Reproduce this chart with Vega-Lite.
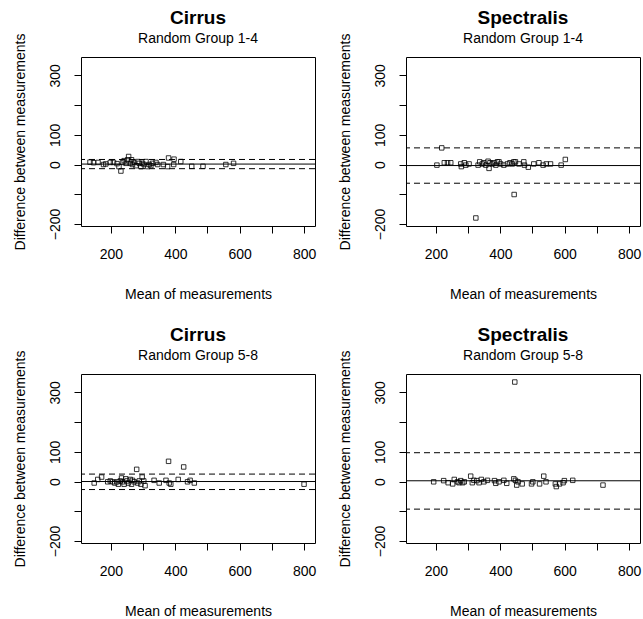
{
"$schema": "https://vega.github.io/schema/vega-lite/v6.json",
"background": "white",
"padding": {"left": 12, "top": 8, "right": 2, "bottom": 2},
"bounds": "flush",
"spacing": {"row": 148, "column": 91},
"columns": 2,
"datasets": {
"pts": [
{"p":"A","m":135,"d":8},{"p":"A","m":146,"d":6},{"p":"A","m":160,"d":7},{"p":"A","m":177,"d":0},{"p":"A","m":184,"d":2},{"p":"A","m":198,"d":7},{"p":"A","m":208,"d":7},{"p":"A","m":219,"d":3},{"p":"A","m":225,"d":-7},{"p":"A","m":231,"d":-22},{"p":"A","m":236,"d":7},{"p":"A","m":241,"d":13},{"p":"A","m":247,"d":4},{"p":"A","m":252,"d":16},{"p":"A","m":255,"d":27},{"p":"A","m":260,"d":4},{"p":"A","m":264,"d":16},{"p":"A","m":267,"d":0},{"p":"A","m":272,"d":7},{"p":"A","m":278,"d":-4},{"p":"A","m":283,"d":10},{"p":"A","m":288,"d":4},{"p":"A","m":293,"d":-7},{"p":"A","m":298,"d":4},{"p":"A","m":303,"d":0},{"p":"A","m":309,"d":10},{"p":"A","m":314,"d":-7},{"p":"A","m":319,"d":0},{"p":"A","m":324,"d":-4},{"p":"A","m":329,"d":4},{"p":"A","m":340,"d":7},{"p":"A","m":345,"d":0},{"p":"A","m":363,"d":0},{"p":"A","m":376,"d":-7},{"p":"A","m":379,"d":22},{"p":"A","m":395,"d":0},{"p":"A","m":396,"d":18},{"p":"A","m":417,"d":10},{"p":"A","m":451,"d":-6},{"p":"A","m":486,"d":-6},{"p":"A","m":557,"d":0},{"p":"A","m":581,"d":4},
{"p":"B","m":203,"d":-2},{"p":"B","m":218,"d":56},{"p":"B","m":226,"d":6},{"p":"B","m":236,"d":6},{"p":"B","m":246,"d":6},{"p":"B","m":277,"d":2},{"p":"B","m":279,"d":-7},{"p":"B","m":288,"d":6},{"p":"B","m":293,"d":-2},{"p":"B","m":303,"d":2},{"p":"B","m":324,"d":-180},{"p":"B","m":331,"d":-2},{"p":"B","m":336,"d":9},{"p":"B","m":344,"d":2},{"p":"B","m":349,"d":6},{"p":"B","m":355,"d":-2},{"p":"B","m":362,"d":11},{"p":"B","m":365,"d":-13},{"p":"B","m":368,"d":6},{"p":"B","m":375,"d":2},{"p":"B","m":380,"d":6},{"p":"B","m":386,"d":-2},{"p":"B","m":391,"d":9},{"p":"B","m":396,"d":9},{"p":"B","m":401,"d":2},{"p":"B","m":411,"d":-2},{"p":"B","m":422,"d":2},{"p":"B","m":430,"d":6},{"p":"B","m":437,"d":2},{"p":"B","m":442,"d":9},{"p":"B","m":443,"d":-101},{"p":"B","m":447,"d":9},{"p":"B","m":458,"d":2},{"p":"B","m":473,"d":9},{"p":"B","m":475,"d":-2},{"p":"B","m":487,"d":-9},{"p":"B","m":504,"d":2},{"p":"B","m":520,"d":6},{"p":"B","m":533,"d":-2},{"p":"B","m":543,"d":2},{"p":"B","m":556,"d":2},{"p":"B","m":589,"d":-2},{"p":"B","m":602,"d":17},
{"p":"C","m":148,"d":-5},{"p":"C","m":159,"d":7},{"p":"C","m":171,"d":15},{"p":"C","m":190,"d":-1},{"p":"C","m":198,"d":2},{"p":"C","m":205,"d":-1},{"p":"C","m":212,"d":-5},{"p":"C","m":219,"d":-1},{"p":"C","m":223,"d":-9},{"p":"C","m":229,"d":2},{"p":"C","m":233,"d":12},{"p":"C","m":236,"d":-1},{"p":"C","m":241,"d":-9},{"p":"C","m":246,"d":9},{"p":"C","m":250,"d":2},{"p":"C","m":254,"d":-5},{"p":"C","m":260,"d":7},{"p":"C","m":264,"d":-9},{"p":"C","m":267,"d":4},{"p":"C","m":272,"d":-1},{"p":"C","m":280,"d":41},{"p":"C","m":283,"d":-5},{"p":"C","m":288,"d":2},{"p":"C","m":293,"d":-9},{"p":"C","m":297,"d":15},{"p":"C","m":302,"d":2},{"p":"C","m":306,"d":-14},{"p":"C","m":334,"d":4},{"p":"C","m":350,"d":-5},{"p":"C","m":371,"d":4},{"p":"C","m":379,"d":68},{"p":"C","m":381,"d":-5},{"p":"C","m":386,"d":-9},{"p":"C","m":409,"d":7},{"p":"C","m":426,"d":49},{"p":"C","m":438,"d":-1},{"p":"C","m":446,"d":4},{"p":"C","m":459,"d":-5},{"p":"C","m":800,"d":-9},
{"p":"D","m":193,"d":-1},{"p":"D","m":224,"d":3},{"p":"D","m":238,"d":-4},{"p":"D","m":252,"d":-8},{"p":"D","m":257,"d":7},{"p":"D","m":267,"d":-1},{"p":"D","m":272,"d":-4},{"p":"D","m":277,"d":3},{"p":"D","m":283,"d":-4},{"p":"D","m":288,"d":-1},{"p":"D","m":308,"d":18},{"p":"D","m":313,"d":-4},{"p":"D","m":318,"d":4},{"p":"D","m":327,"d":3},{"p":"D","m":334,"d":-4},{"p":"D","m":341,"d":7},{"p":"D","m":349,"d":-1},{"p":"D","m":360,"d":4},{"p":"D","m":382,"d":3},{"p":"D","m":386,"d":-6},{"p":"D","m":396,"d":-1},{"p":"D","m":411,"d":4},{"p":"D","m":420,"d":-6},{"p":"D","m":442,"d":9},{"p":"D","m":445,"d":335},{"p":"D","m":447,"d":4},{"p":"D","m":451,"d":-12},{"p":"D","m":455,"d":-1},{"p":"D","m":468,"d":-8},{"p":"D","m":497,"d":-8},{"p":"D","m":501,"d":-1},{"p":"D","m":522,"d":-8},{"p":"D","m":535,"d":18},{"p":"D","m":542,"d":-1},{"p":"D","m":571,"d":-8},{"p":"D","m":574,"d":-17},{"p":"D","m":584,"d":-8},{"p":"D","m":595,"d":-4},{"p":"D","m":599,"d":3},{"p":"D","m":625,"d":4},{"p":"D","m":719,"d":-12}
],
"lines": [
{"p":"A","v":1.5,"t":"mean"},{"p":"A","v":17,"t":"limit"},{"p":"A","v":-14,"t":"limit"},
{"p":"B","v":-3.5,"t":"mean"},{"p":"B","v":56,"t":"limit"},{"p":"B","v":-63,"t":"limit"},
{"p":"C","v":0,"t":"mean"},{"p":"C","v":25,"t":"limit"},{"p":"C","v":-27,"t":"limit"},
{"p":"D","v":2.5,"t":"mean"},{"p":"D","v":97,"t":"limit"},{"p":"D","v":-93,"t":"limit"}
]
},
"concat": [
{"title": {"text": "Cirrus", "subtitle": "Random Group 1-4"}, "width": 234, "height": 169,
 "layer": [
  {"data": {"name": "pts"}, "transform": [{"filter": "datum.p == 'A'"}],
   "mark": {"type": "point", "shape": "square", "filled": false, "color": "black", "size": 20, "strokeWidth": 0.8, "opacity": 1, "clip": true},
   "encoding": {
    "x": {"field": "m", "type": "quantitative", "scale": {"domain": [107, 834], "nice": false, "zero": false}, "axis": {"title": "Mean of measurements", "values": [200,300,400,500,600,700,800], "labelOverlap": false, "labelExpr": "datum.value % 200 == 0 ? datum.label : ''"}},
    "y": {"field": "d", "type": "quantitative", "scale": {"domain": [-207, 362], "nice": false, "zero": false}, "axis": {"title": "Difference between measurements", "values": [-200,-100,0,100,200,300], "labelOverlap": false, "labelExpr": "(datum.value == -100 || datum.value == 200) ? '' : datum.label"}}
   }},
  {"data": {"name": "lines"}, "transform": [{"filter": "datum.p == 'A'"}],
   "mark": {"type": "rule", "color": "black", "strokeWidth": 1},
   "encoding": {"y": {"field": "v", "type": "quantitative", "scale": {"domain": [-207, 362], "nice": false, "zero": false}, "axis": {"title": "Difference between measurements", "values": [-200,-100,0,100,200,300], "labelOverlap": false, "labelExpr": "(datum.value == -100 || datum.value == 200) ? '' : datum.label"}}, "strokeDash": {"field": "t", "type": "nominal", "scale": {"domain": ["mean", "limit"], "range": [[1, 0], [6, 4]]}, "legend": null}}}
 ]},
{"title": {"text": "Spectralis", "subtitle": "Random Group 1-4"}, "width": 234, "height": 169,
 "layer": [
  {"data": {"name": "pts"}, "transform": [{"filter": "datum.p == 'B'"}],
   "mark": {"type": "point", "shape": "square", "filled": false, "color": "black", "size": 20, "strokeWidth": 0.8, "opacity": 1, "clip": true},
   "encoding": {
    "x": {"field": "m", "type": "quantitative", "scale": {"domain": [107, 834], "nice": false, "zero": false}, "axis": {"title": "Mean of measurements", "values": [200,300,400,500,600,700,800], "labelOverlap": false, "labelExpr": "datum.value % 200 == 0 ? datum.label : ''"}},
    "y": {"field": "d", "type": "quantitative", "scale": {"domain": [-207, 362], "nice": false, "zero": false}, "axis": {"title": "Difference between measurements", "values": [-200,-100,0,100,200,300], "labelOverlap": false, "labelExpr": "(datum.value == -100 || datum.value == 200) ? '' : datum.label"}}
   }},
  {"data": {"name": "lines"}, "transform": [{"filter": "datum.p == 'B'"}],
   "mark": {"type": "rule", "color": "black", "strokeWidth": 1},
   "encoding": {"y": {"field": "v", "type": "quantitative", "scale": {"domain": [-207, 362], "nice": false, "zero": false}, "axis": {"title": "Difference between measurements", "values": [-200,-100,0,100,200,300], "labelOverlap": false, "labelExpr": "(datum.value == -100 || datum.value == 200) ? '' : datum.label"}}, "strokeDash": {"field": "t", "type": "nominal", "scale": {"domain": ["mean", "limit"], "range": [[1, 0], [6, 4]]}, "legend": null}}}
 ]},
{"title": {"text": "Cirrus", "subtitle": "Random Group 5-8"}, "width": 234, "height": 169,
 "layer": [
  {"data": {"name": "pts"}, "transform": [{"filter": "datum.p == 'C'"}],
   "mark": {"type": "point", "shape": "square", "filled": false, "color": "black", "size": 20, "strokeWidth": 0.8, "opacity": 1, "clip": true},
   "encoding": {
    "x": {"field": "m", "type": "quantitative", "scale": {"domain": [107, 834], "nice": false, "zero": false}, "axis": {"title": "Mean of measurements", "values": [200,300,400,500,600,700,800], "labelOverlap": false, "labelExpr": "datum.value % 200 == 0 ? datum.label : ''"}},
    "y": {"field": "d", "type": "quantitative", "scale": {"domain": [-207, 362], "nice": false, "zero": false}, "axis": {"title": "Difference between measurements", "values": [-200,-100,0,100,200,300], "labelOverlap": false, "labelExpr": "(datum.value == -100 || datum.value == 200) ? '' : datum.label"}}
   }},
  {"data": {"name": "lines"}, "transform": [{"filter": "datum.p == 'C'"}],
   "mark": {"type": "rule", "color": "black", "strokeWidth": 1},
   "encoding": {"y": {"field": "v", "type": "quantitative", "scale": {"domain": [-207, 362], "nice": false, "zero": false}, "axis": {"title": "Difference between measurements", "values": [-200,-100,0,100,200,300], "labelOverlap": false, "labelExpr": "(datum.value == -100 || datum.value == 200) ? '' : datum.label"}}, "strokeDash": {"field": "t", "type": "nominal", "scale": {"domain": ["mean", "limit"], "range": [[1, 0], [6, 4]]}, "legend": null}}}
 ]},
{"title": {"text": "Spectralis", "subtitle": "Random Group 5-8"}, "width": 234, "height": 169,
 "layer": [
  {"data": {"name": "pts"}, "transform": [{"filter": "datum.p == 'D'"}],
   "mark": {"type": "point", "shape": "square", "filled": false, "color": "black", "size": 20, "strokeWidth": 0.8, "opacity": 1, "clip": true},
   "encoding": {
    "x": {"field": "m", "type": "quantitative", "scale": {"domain": [107, 834], "nice": false, "zero": false}, "axis": {"title": "Mean of measurements", "values": [200,300,400,500,600,700,800], "labelOverlap": false, "labelExpr": "datum.value % 200 == 0 ? datum.label : ''"}},
    "y": {"field": "d", "type": "quantitative", "scale": {"domain": [-207, 362], "nice": false, "zero": false}, "axis": {"title": "Difference between measurements", "values": [-200,-100,0,100,200,300], "labelOverlap": false, "labelExpr": "(datum.value == -100 || datum.value == 200) ? '' : datum.label"}}
   }},
  {"data": {"name": "lines"}, "transform": [{"filter": "datum.p == 'D'"}],
   "mark": {"type": "rule", "color": "black", "strokeWidth": 1},
   "encoding": {"y": {"field": "v", "type": "quantitative", "scale": {"domain": [-207, 362], "nice": false, "zero": false}, "axis": {"title": "Difference between measurements", "values": [-200,-100,0,100,200,300], "labelOverlap": false, "labelExpr": "(datum.value == -100 || datum.value == 200) ? '' : datum.label"}}, "strokeDash": {"field": "t", "type": "nominal", "scale": {"domain": ["mean", "limit"], "range": [[1, 0], [6, 4]]}, "legend": null}}}
 ]}
],
"config": {
 "font": "Liberation Sans",
 "view": {"stroke": "black", "strokeWidth": 1},
 "axis": {"grid": false, "domain": false, "tickColor": "black", "tickSize": 7, "labelColor": "black", "titleColor": "black", "labelFont": "Liberation Sans", "titleFont": "Liberation Sans", "labelFontSize": 14, "titleFontSize": 14, "titleFontWeight": "normal", "labelOverlap": false},
 "axisX": {"labelPadding": 14, "titlePadding": 26},
 "axisY": {"labelAngle": -90, "labelAlign": "center", "labelBaseline": "bottom", "labelPadding": 12, "titlePadding": 21},
 "title": {"font": "Liberation Sans", "fontSize": 19, "fontWeight": "bold", "color": "black", "subtitleFont": "Liberation Sans", "subtitleFontSize": 14, "subtitleColor": "black", "subtitlePadding": 4, "offset": -13, "anchor": "middle"}
}
}
